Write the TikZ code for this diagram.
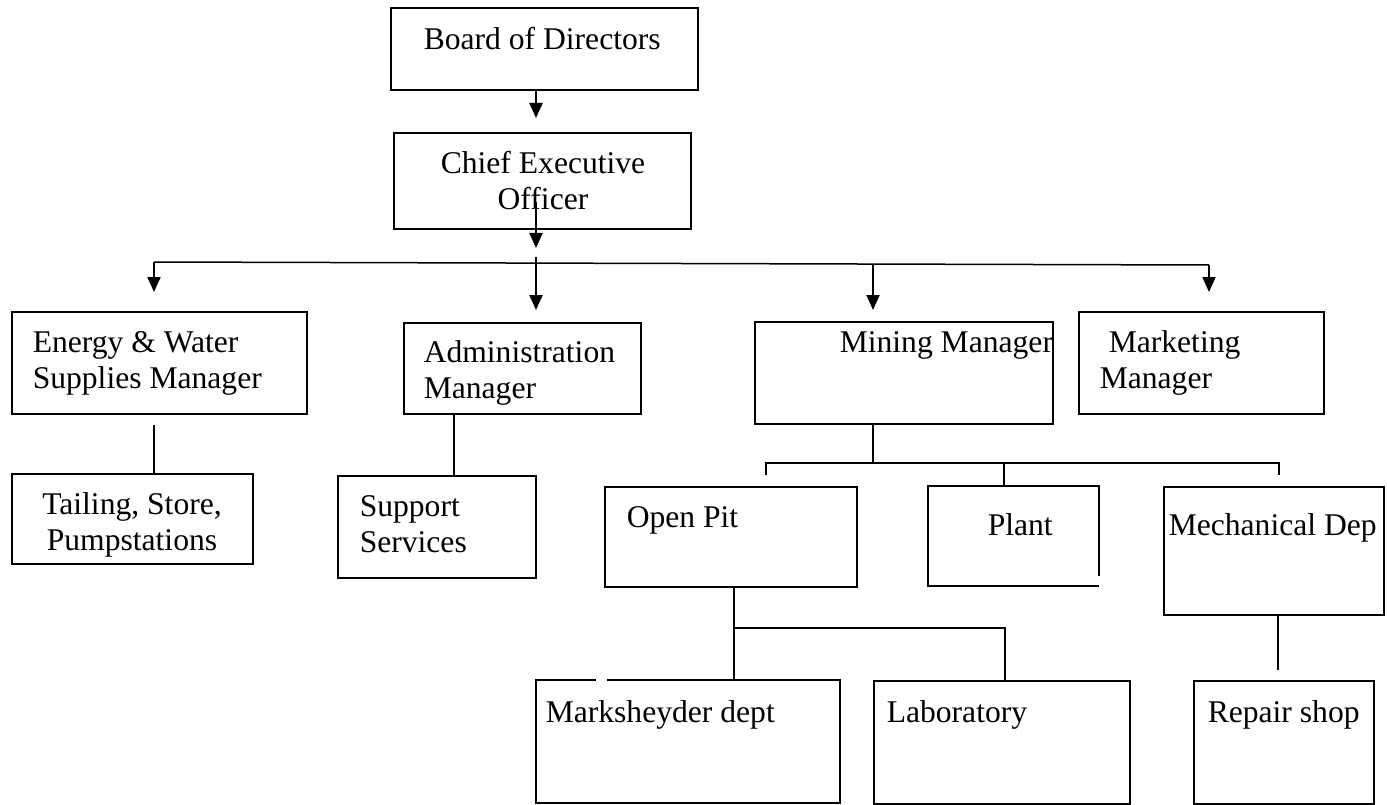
\documentclass[tikz,border=0pt]{standalone}
\usepackage{fontspec}
\setmainfont{Liberation Serif}
\usetikzlibrary{arrows.meta}

\begin{document}
\begin{tikzpicture}[x=1pt,y=-1pt,>={Triangle[length=15pt,width=13pt]},
  line width=1.5pt,font=\fontsize{31.6}{36}\selectfont]

  \tikzstyle{box}=[rectangle,draw,line width=1.8pt,inner sep=0pt,anchor=north west];
  \tikzstyle{openbox}=[rectangle,inner sep=0pt,outer sep=0pt,anchor=north west];
  \tikzstyle{frame}=[line width=1.8pt];
  \tikzstyle{lbl}=[inner sep=0pt,align=left,anchor=west];
  \tikzstyle{arr}=[->,line width=2pt];

  \useasboundingbox (0,0) rectangle (1387,805);

  \node[box,minimum width=307pt,minimum height=82pt]  (board)   at (390,7)    {};
  \node[box,minimum width=297pt,minimum height=96pt]  (ceo)     at (393,132)  {};
  \node[box,minimum width=295pt,minimum height=102pt] (energy)  at (11,311)   {};
  \node[box,minimum width=237pt,minimum height=91pt]  (admin)   at (403,322)  {};
  \node[box,minimum width=298pt,minimum height=102pt] (mining)  at (754,321)  {};
  \node[box,minimum width=245pt,minimum height=102pt] (market)  at (1078,311) {};
  \node[box,minimum width=241pt,minimum height=90pt]  (tailing) at (11,473)   {};
  \node[box,minimum width=198pt,minimum height=102pt] (support) at (337,475)  {};
  \node[box,minimum width=252pt,minimum height=100pt] (openpit) at (604,486)  {};
  \node[openbox,minimum width=171pt,minimum height=100pt] (plant) at (928,486) {};
  \node[box,minimum width=220pt,minimum height=128pt] (mech)    at (1163,486) {};
  \node[openbox,minimum width=304pt,minimum height=123pt] (marksh) at (536,680) {};
  \node[box,minimum width=256pt,minimum height=123pt] (lab)     at (873,680)  {};
  \node[box,minimum width=180pt,minimum height=123pt] (repair)  at (1193,680) {};

  \draw[frame] ([yshift=10pt]plant.south east) -- (plant.north east)
    -- (plant.north west) -- (plant.south west) -- (plant.south east);
  \draw[frame] ([xshift=71pt]marksh.north west) -- (marksh.north east)
    -- (marksh.south east) -- (marksh.south west) -- (marksh.north west)
    -- ([xshift=60pt]marksh.north west);

  \node[lbl] (board-t)   at (423,39)   {Board of Directors};
  \node[lbl,align=center,anchor=center] (ceo-t) at (543,181) {Chief Executive\\Officer};
  \node[lbl] (energy-t)  at (32,363)   {Energy \& Water\\Supplies Manager};
  \node[lbl] (admin-t)   at (423,373)  {Administration\\Manager};
  \node[lbl] (mining-t)  at (839,345)  {Mining Manager};
  \node[lbl] (market-t)  at (1099,363) {\hspace*{9pt}Marketing\\Manager};
  \node[lbl,align=center,anchor=center] (tailing-t) at (132,525) {Tailing, Store,\\Pumpstations};
  \node[lbl] (support-t) at (359,524)  {Support\\Services};
  \node[lbl] (openpit-t) at (626,520)  {Open Pit};
  \node[lbl] (plant-t)   at (987,525)  {Plant};
  \node[lbl] (mech-t)    at (1168,528) {Mechanical Dep};
  \node[lbl] (marksh-t)  at (545,715)  {Marksheyder dept};
  \node[lbl] (lab-t)     at (886,715)  {Laboratory};
  \node[lbl] (repair-t)  at (1207,715) {Repair shop};

  \coordinate (spine)    at (536,263);
  \coordinate (busL)     at (154,262);
  \coordinate (busR)     at (1209,265);
  \coordinate (mdrop)    at (873,264);
  \coordinate (mbus)     at (873,463);
  \coordinate (pitdrop)  at (766,475);
  \coordinate (mechdrop) at (1279,475);
  \coordinate (pbus)     at (734,628);

  \draw[arr,shorten >=14pt] (board.south -| spine) -- (ceo.north -| spine);
  \draw[arr] ([yshift=28pt]ceo.south -| spine) -- ([yshift=15pt]spine);
  \draw (busL) -- (busR);
  \draw[arr,shorten >=12pt] ([yshift=6pt]spine) -- (admin.north -| spine);
  \draw[arr,shorten >=19pt] (busL) -- (busL |- energy.north);
  \draw[arr,shorten >=11pt] (mdrop) -- (mdrop |- mining.north);
  \draw[arr,shorten >=19pt] (busR) -- (busR |- market.north);

  \draw[shorten <=10pt] (energy.south -| busL) -- (tailing.north -| busL);
  \draw ([xshift=17pt]support.north) -- ([xshift=17pt]support.north |- admin.south);
  \draw (mining.south -| mbus) -- (mbus);
  \draw (pitdrop) |- (mbus) -| (mechdrop);
  \draw ([xshift=-9.5pt]plant.north) -- ([xshift=-9.5pt]plant.north |- mbus);
  \draw (openpit.south -| pbus) -- (marksh.north -| pbus);
  \draw (pbus) -| ([xshift=3pt]lab.north);
  \draw[shorten >=10pt] ([xshift=4pt]mech.south) -- ([xshift=4pt]mech.south |- repair.north);

\end{tikzpicture}
\end{document}
